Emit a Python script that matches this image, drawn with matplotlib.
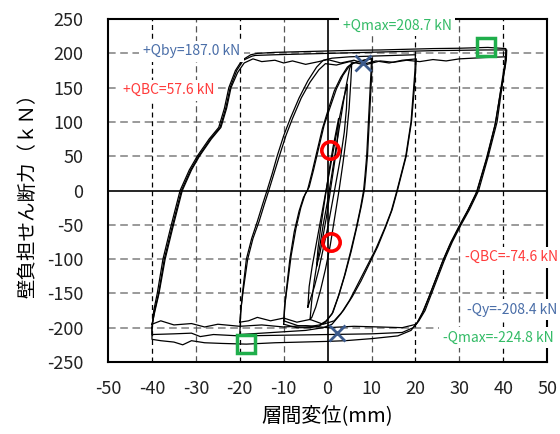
import matplotlib
matplotlib.use("Agg")
import matplotlib.pyplot as plt

plt.rcParams['font.family'] = ['Noto Sans CJK JP', 'DejaVu Sans']
plt.rcParams['axes.unicode_minus'] = False

# ---------------- data ----------------
# +/-40 mm cycles
c40a_x = [-40.0, -39.6, -38.8, -37.5, -35.6, -33.6, -31.5, -29.7, -27.0, -24.8, -23.5, -22.5, -21.0, -19.5, -17.5,
          -16.0, -12.0, -6.0, 0.0, 6.0, 12.0, 18.0, 24.0, 30.0, 36.5, 40.6,
          40.5, 40.1, 39.5, 38.3, 36.4, 34.1, 32.0, 30.1, 28.1, 26.4, 24.9, 23.4, 21.9, 20.5, 19.0,
          16.0, 10.0, 4.0, 0.0, -6.0, -12.0, -18.5, -24.0, -28.0, -31.0, -33.0, -35.0, -38.0, -40.0, -40.0]
c40a_y = [-200, -175, -150, -100, -50, 0, 30, 50, 75, 92, 120, 150, 175, 190, 198,
          200, 201.5, 202.5, 203.5, 204.5, 205, 206, 207, 207.5, 208.7, 207,
          190, 175, 150, 100, 50, 0, -28, -50, -75, -100, -125, -150, -175, -192, -204,
          -212, -216, -219, -220, -221, -222, -224, -223, -222, -219, -225, -221, -219, -217, -200]

c40b_x = [-40.0, -39.4, -38.5, -37.2, -35.3, -33.3, -31.2, -29.4, -26.7, -24.5, -23.2, -22.2, -20.7, -19.2, -17.2,
          -16.5, -12.0, -6.0, 0.0, 6.0, 12.0, 18.0, 24.0, 30.0, 36.0, 40.8,
          40.7, 40.3, 39.7, 38.6, 36.6, 34.4, 32.3, 30.4, 28.4, 26.7, 25.2, 23.7, 22.2, 20.8, 19.5,
          17.0, 10.0, 0.0, -10.0, -20.0, -26.0, -29.0, -31.0, -35.0, -40.0, -40.0]
c40b_y = [-200, -175, -150, -100, -50, 0, 30, 50, 75, 92, 120, 150, 175, 190, 196,
          197, 198, 199, 200, 201, 202, 203, 204, 204.5, 205, 205,
          190, 175, 150, 100, 50, 0, -28, -50, -75, -100, -125, -150, -175, -190, -200,
          -207, -209, -210, -211, -212, -210, -213, -208, -209, -210, -200]

c40c_x = [-40.0, -39.3, -38.4, -37.0, -35.1, -33.1, -31.0, -29.2, -26.5, -24.3, -23.0, -22.0, -20.5, -19.0, -17.0,
          -15.0, -12.0, -10.0, -8.0, -5.0, -2.0, 0.0, 3.0, 6.0, 9.0, 12.0, 15.0, 18.0, 21.0, 24.0, 27.0, 30.0, 33.0, 36.0, 40.5,
          40.4, 40.0, 39.3, 38.1, 36.1, 33.8, 31.7, 29.8, 27.8, 26.1, 24.6, 23.1, 21.6, 20.2,
          17.0, 12.0, 6.0, 0.0, -5.0, -10.0, -15.0, -20.0, -25.0, -28.0, -31.0, -35.0, -38.0, -40.0]
c40c_y = [-195, -175, -150, -100, -50, 0, 30, 50, 75, 92, 120, 150, 172, 186, 192,
          188, 190, 186, 189, 184, 188, 191, 186, 190, 184, 189, 187, 190, 188, 191, 189, 192, 193, 194, 195,
          180, 165, 140, 95, 45, -5, -32, -55, -80, -105, -130, -155, -178, -195,
          -200, -199, -198, -200, -197, -199, -196, -198, -195, -199, -194, -196, -190, -195]

# +/-20 mm cycles
c20a_x = [-20.0, -19.8, -19.4, -18.5, -17.3, -16.0, -14.8, -13.8, -12.6, -11.5, -10.0, -8.5, -6.5, -4.5, -2.5, -1.0,
          1.0, 5.0, 10.0, 15.0, 20.0,
          19.9, 19.6, 19.0, 17.8, 16.8, 15.8, 14.5, 13.0, 11.0, 9.0, 7.0, 5.0, 3.0, 1.0, -1.0,
          -5.0, -10.0, -15.0, -20.0]
c20a_y = [-210, -180, -150, -100, -70, -45, -20, 0, 25, 50, 80, 105, 135, 160, 180, 190,
          193, 195, 196, 197, 198,
          175, 150, 100, 50, 25, 0, -30, -55, -85, -110, -135, -160, -180, -195, -200,
          -204, -206, -208, -210]

c20b_x = [-20.0, -19.7, -19.2, -18.2, -17.0, -15.6, -14.4, -13.4, -12.2, -11.0, -9.5, -8.0, -6.0, -4.0, -2.0, -0.5,
          2.0, 5.0, 8.0, 11.0, 14.0, 17.0, 20.2,
          20.0, 19.7, 19.1, 17.9, 16.9, 15.9, 14.7, 13.3, 11.4, 9.5, 7.6, 5.6, 3.6, 1.5, -1.0,
          -4.0, -7.0, -10.0, -13.0, -16.0, -18.0, -20.0]
c20b_y = [-192, -170, -145, -100, -70, -45, -20, 0, 25, 50, 80, 105, 135, 158, 176, 185,
          183, 188, 184, 189, 186, 190, 192,
          170, 145, 100, 50, 25, 0, -28, -52, -82, -107, -132, -155, -175, -190, -195,
          -188, -192, -186, -190, -185, -190, -192]

# +/-10 mm cycles
c10a_x = [-10.0, -9.8, -9.3, -8.6, -7.6, -6.5, -5.5, -4.6, -3.6, -2.5, -1.2, 0.0, 1.5, 3.0, 4.5, 5.5, 7.0, 8.5, 10.0,
          9.9, 9.7, 9.3, 8.9, 8.5, 8.2, 7.5, 6.5, 5.2, 3.8, 2.4, 1.0, -0.5, -2.0, -4.0, -7.0, -10.0]
c10a_y = [-195, -170, -140, -100, -60, -30, -10, 0, 25, 55, 90, 115, 145, 165, 180, 185, 188, 190, 192,
          175, 150, 100, 50, 20, 0, -25, -55, -90, -125, -155, -180, -192, -198, -200, -200, -195]

c10b_x = [-10.0, -9.7, -9.1, -8.3, -7.2, -6.1, -5.1, -4.2, -3.2, -2.1, -0.8, 0.5, 2.0, 3.5, 5.0, 6.0, 7.5, 8.8, 10.2,
          10.1, 9.9, 9.5, 9.1, 8.7, 8.4, 7.7, 6.7, 5.4, 4.0, 2.6, 1.2, -0.3, -1.8, -3.8, -6.8, -10.0]
c10b_y = [-190, -165, -135, -95, -55, -25, -5, 5, 30, 60, 95, 120, 148, 168, 182, 186, 189, 191, 193,
          178, 152, 102, 52, 22, 2, -22, -52, -88, -122, -152, -178, -190, -196, -198, -197, -190]

# small cycles
c6_x = [-4.0, -3.6, -3.0, -2.0, -1.0, 0.0, 1.0, 2.0, 3.0, 4.0, 5.0, 5.5,
        5.3, 4.9, 4.3, 3.5, 2.6, 1.6, 0.6, -0.5, -1.6, -2.7, -3.6, -4.0]
c6_y = [-188, -160, -130, -90, -50, -15, 25, 65, 105, 145, 178, 186,
        160, 120, 80, 40, 0, -40, -80, -115, -145, -170, -185, -188]

c4_x = [-4.5, -4.2, -3.5, -2.5, -1.5, -0.5, 0.5, 1.5, 2.5, 3.5, 4.5,
        4.3, 3.8, 3.0, 2.0, 1.0, 0.0, -1.0, -2.0, -3.0, -4.0, -4.5]
c4_y = [-170, -140, -110, -75, -40, -5, 30, 65, 100, 130, 155,
        120, 85, 50, 15, -20, -55, -85, -115, -140, -160, -170]

c2_x = [-2.5, -2.2, -1.6, -0.9, -0.2, 0.5, 1.2, 1.9, 2.5,
        2.3, 1.8, 1.1, 0.4, -0.3, -1.0, -1.7, -2.5]
c2_y = [-110, -85, -55, -25, 5, 35, 62, 85, 105,
        80, 50, 20, -10, -40, -65, -90, -110]

# characteristic points
qbc_x, qbc_y = [0.6, 0.8], [59.0, -75.0]
qy_x, qy_y = [8.1, 2.1], [186.0, -208.0]
qmax_x, qmax_y = [36.1, -18.6], [208.7, -224.0]

xticks = [-50, -40, -30, -20, -10, 0, 10, 20, 30, 40, 50]
yticks = [-250, -200, -150, -100, -50, 0, 50, 100, 150, 200, 250]

# ---------------- plot ----------------
fig = plt.figure(figsize=(5.6, 4.34), dpi=100)
ax = fig.add_axes([0.193, 0.166, 0.784, 0.790])
ax.set_xlim(-50, 50)
ax.set_ylim(-250, 250)

# grid
for yv in [-200, -150, -100, -50, 50, 100, 150, 200]:
    ax.axhline(yv, color='#7f7f7f', lw=1.1, ls=(0, (5, 3)), zorder=1)
for xv in [-40, -20, 20, 40]:
    ax.axvline(xv, color='black', lw=0.9, ls=(0, (4, 3)), zorder=1)
for xv in [-30, -10, 10, 30]:
    ax.axvline(xv, color='#555555', lw=0.9, ls=(0, (5, 3)), zorder=1)
ax.axhline(0, color='black', lw=1.2, zorder=1)
ax.axvline(0, color='black', lw=1.2, zorder=1)

paths = [(c40a_x, c40a_y), (c40b_x, c40b_y), (c40c_x, c40c_y),
         (c20a_x, c20a_y), (c20b_x, c20b_y),
         (c10a_x, c10a_y), (c10b_x, c10b_y),
         (c6_x, c6_y), (c4_x, c4_y), (c2_x, c2_y)]
for px, py in paths:
    ax.plot(px, py, color='black', lw=0.9, zorder=3)

ax.plot(qbc_x, qbc_y, 'o', ms=12.5, mfc='none', mec='#ff0000', mew=2.6, zorder=5)
ax.plot(qy_x, qy_y, 'x', ms=11, mec='#3c5a8c', mew=2.0, zorder=5)
ax.plot(qmax_x, qmax_y, 's', ms=13, mfc='none', mec='#1fae4b', mew=2.5, zorder=5)

bb = dict(fc='white', ec='none', pad=2.5)
fs = 10
ax.text(-31.0, 203, '+Qby=187.0 kN', color='#4a6ea8', fontsize=fs, ha='center', va='center', bbox=bb, zorder=6)
ax.text(-36.1, 146.5, '+QBC=57.6 kN', color='#ff3b3b', fontsize=fs, ha='center', va='center', bbox=bb, zorder=6)
ax.text(15.9, 240, '+Qmax=208.7 kN', color='#33bb66', fontsize=fs, ha='center', va='center', bbox=bb,
        zorder=6, clip_on=False)
ax.text(52.4, -97, '-QBC=-74.6 kN', color='#ff3b3b', fontsize=fs, ha='right', va='center', bbox=bb,
        zorder=6, clip_on=False)
ax.text(52.4, -174, '-Qy=-208.4 kN', color='#4a6ea8', fontsize=fs, ha='right', va='center', bbox=bb,
        zorder=6, clip_on=False)
ax.text(51.5, -215, '-Qmax=-224.8 kN', color='#33bb66', fontsize=fs, ha='right', va='center', bbox=bb,
        zorder=6, clip_on=False)

ax.set_xticks(xticks)
ax.set_yticks(yticks)
ax.tick_params(length=0, labelsize=13, colors='#222222')
ax.tick_params(axis='y', pad=18)
ax.tick_params(axis='x', pad=13)
for s in ax.spines.values():
    s.set_linewidth(1.5)
    s.set_color('black')
    s.set_zorder(4)

ax.set_xlabel('層間変位(mm)', fontsize=14.5, labelpad=5)
ax.set_ylabel('壁負担せん断力（ｋＮ）', fontsize=14, labelpad=6)

fig.savefig('out.png', dpi=100)
